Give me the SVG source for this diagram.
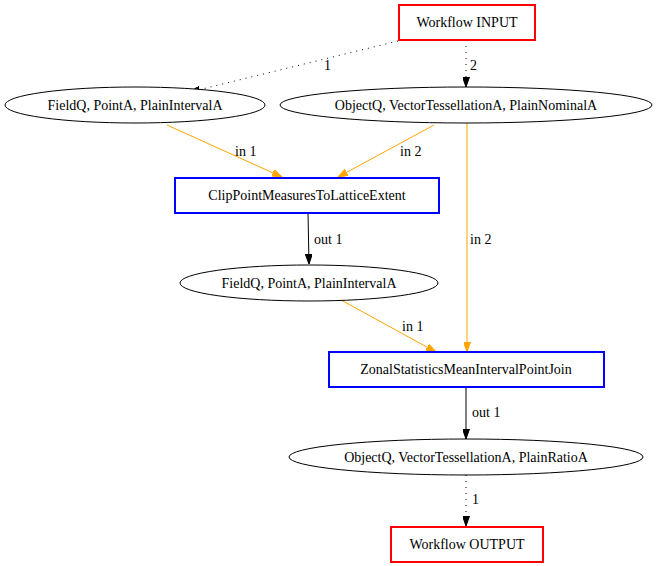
<svg xmlns="http://www.w3.org/2000/svg" width="658" height="566" viewBox="0 0 658 566">
<defs>
<marker id="ab" markerWidth="10" markerHeight="7" refX="10" refY="3.5" orient="auto" markerUnits="userSpaceOnUse"><polygon points="0,0 10,3.5 0,7" fill="#000" stroke="#000"/></marker>
<marker id="ao" markerWidth="10" markerHeight="7" refX="10" refY="3.5" orient="auto" markerUnits="userSpaceOnUse"><polygon points="0,0 10,3.5 0,7" fill="orange" stroke="orange"/></marker>
</defs>
<style>
text{font-family:"Liberation Serif","Times New Roman",serif;font-size:14px;fill:#000}
.n{text-anchor:middle}
.io{fill:#fff;stroke:red;stroke-width:2}
.op{fill:#fff;stroke:blue;stroke-width:2}
.d{fill:#fff;stroke:#000;stroke-width:1}
.e{fill:none;stroke:#000;stroke-width:1}
.dot{stroke-dasharray:1,5}
.or{fill:none;stroke:orange;stroke-width:1}
</style>
<rect width="658" height="566" fill="#fff"/>
<g id="edges">
<path class="e dot" d="M398,41 L190,92" marker-end="url(#ab)"/>
<text x="324" y="70">1</text>
<path class="e dot" d="M466,40 L466,87" marker-end="url(#ab)"/>
<text x="470" y="70">2</text>
<path class="or" d="M167,125 L282,177" marker-end="url(#ao)"/>
<text x="235" y="156">in 1</text>
<path class="or" d="M434,125 L338,177" marker-end="url(#ao)"/>
<text x="400" y="156">in 2</text>
<path class="or" d="M467,123 L467,352" marker-end="url(#ao)"/>
<text x="470" y="244">in 2</text>
<path class="e" d="M308,213 L309,264" marker-end="url(#ab)"/>
<text x="314" y="244">out 1</text>
<path class="or" d="M341,300 L436,352" marker-end="url(#ao)"/>
<text x="402" y="331">in 1</text>
<path class="e" d="M466,387 L466,439" marker-end="url(#ab)"/>
<text x="472" y="417">out 1</text>
<path class="e dot" d="M466,475 L466,526" marker-end="url(#ab)"/>
<text x="472" y="504">1</text>
</g>
<g id="input"><rect class="io" x="399" y="5" width="136" height="35"/><text class="n" x="467" y="27">Workflow INPUT</text></g>
<g id="d1"><ellipse class="d" cx="135" cy="105" rx="130" ry="18"/><text class="n" x="135" y="110">FieldQ, PointA, PlainIntervalA</text></g>
<g id="d2"><ellipse class="d" cx="466" cy="105" rx="186" ry="18"/><text class="n" x="466" y="110">ObjectQ, VectorTessellationA, PlainNominalA</text></g>
<g id="clip"><rect class="op" x="175" y="178" width="264" height="35"/><text class="n" x="307" y="200">ClipPointMeasuresToLatticeExtent</text></g>
<g id="d3"><ellipse class="d" cx="309" cy="283" rx="129" ry="18"/><text class="n" x="309" y="288">FieldQ, PointA, PlainIntervalA</text></g>
<g id="zonal"><rect class="op" x="329" y="352" width="275" height="35"/><text class="n" x="466" y="374">ZonalStatisticsMeanIntervalPointJoin</text></g>
<g id="d4"><ellipse class="d" cx="466" cy="457" rx="177" ry="18"/><text class="n" x="466" y="462">ObjectQ, VectorTessellationA, PlainRatioA</text></g>
<g id="output"><rect class="io" x="391" y="527" width="152" height="35"/><text class="n" x="467" y="549">Workflow OUTPUT</text></g>
</svg>
